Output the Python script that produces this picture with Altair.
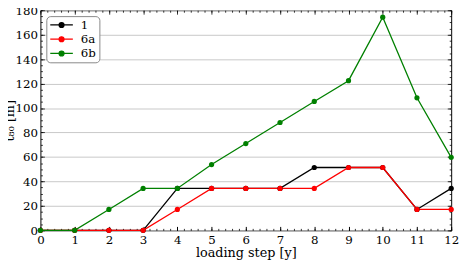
import altair as alt
import pandas as pd

steps = list(range(13))
s1 = [0, 0, 0, 0, 34.3, 34.3, 34.3, 34.3, 51.4, 51.4, 51.4, 17.1, 34.3]
s6a = [0, 0, 0, 0, 17.1, 34.3, 34.3, 34.3, 34.3, 51.4, 51.4, 17.1, 17.1]
s6b = [0, 0, 17.1, 34.3, 34.3, 53.8, 71.0, 88.2, 105.4, 122.4, 174.3, 108.4, 59.7]
series_names = ["1", "6a", "6b"]
colors = ["black", "red", "green"]
x_major = list(range(13))
x_minor = [round(i * 0.2, 1) for i in range(61)]
y_major = list(range(0, 181, 20))
y_minor = list(range(0, 181, 5))

rows = []
for name, vals in zip(series_names, [s1, s6a, s6b]):
    for s, v in zip(steps, vals):
        rows.append({"series": name, "step": s, "value": v})
df = pd.DataFrame(rows)

FONT = "DejaVu Serif"
xs = alt.Scale(domain=[0, 12], nice=False, zero=False)
ys = alt.Scale(domain=[0, 180], nice=False)

# line with a dot, scaled by r = sqrt(symbolSize)/2 = 5px
legend_path = ("M-1,0L3.6,0M1.8,0A0.5,0.5,0,1,1,0.8,0"
               "A0.5,0.5,0,1,1,1.8,0Z")

base = alt.Chart(df)

main = base.mark_line(
    strokeWidth=1.3,
    point=alt.OverlayMarkDef(filled=True, size=28, opacity=1),
).encode(
    x=alt.X("step:Q", scale=xs, axis=alt.Axis(
        orient="bottom", values=x_major, offset=-4, tickSize=4,
        labelPadding=4, domain=False, grid=False, tickColor="black",
        title="loading step [y]", labelFontSize=12, titleFontSize=13,
        titlePadding=2, labelFlush=False, labelFont=FONT, titleFont=FONT,
        labelColor="black", titleColor="black", titleFontWeight="normal")),
    y=alt.Y("value:Q", scale=ys, axis=alt.Axis(
        orient="left", values=y_major, offset=0, ticks=False,
        labelPadding=3, domain=False, grid=False,
        title="t₈₀ [m]", labelFontSize=12, titleFontSize=13,
        titleX=-31, titleY=112, titleBaseline="middle", titleAlign="center",
        titleAngle=270, labelFlush=False, labelFont=FONT, titleFont=FONT,
        labelColor="black", titleColor="black", titleFontWeight="normal")),
    color=alt.Color("series:N", scale=alt.Scale(domain=series_names, range=colors),
                    legend=alt.Legend(title=None, orient="none", legendX=6, legendY=6,
                                      symbolType=legend_path, symbolSize=100,
                                      symbolStrokeWidth=1.3,
                                      labelFont=FONT, labelFontSize=12,
                                      labelColor="black",
                                      padding=3, rowPadding=2.5, labelOffset=20,
                                      fillColor="white", strokeColor="#888",
                                      cornerRadius=4)),
)


def axis_layer(xaxis, yaxis):
    return base.mark_point(opacity=0).encode(
        x=alt.X("step:Q", scale=xs, axis=xaxis),
        y=alt.Y("value:Q", scale=ys, axis=yaxis),
    )


def tick_axis(orient, values, size):
    return alt.Axis(orient=orient, values=values, offset=-size, tickSize=size,
                    labels=False, domain=False, grid=False, title=None,
                    tickColor="black", tickWidth=0.8)


grid = axis_layer(
    tick_axis("bottom", x_minor, 2),
    alt.Axis(orient="left", values=y_major, grid=True, gridColor="#c8c8c8",
             gridWidth=1, ticks=False, labels=False, domain=False, title=None),
)
l2 = axis_layer(tick_axis("top", x_major, 4), tick_axis("left", y_minor, 2))
l3 = axis_layer(tick_axis("top", x_minor, 2), tick_axis("right", y_major, 4))
l4 = axis_layer(None, tick_axis("right", y_minor, 2))
l5 = axis_layer(None, tick_axis("left", y_major, 4))

chart = alt.layer(grid, l2, l3, l4, l5, main).resolve_axis(
    x="independent", y="independent"
).properties(
    width=418, height=224,
    autosize=alt.AutoSizeParams(type="none"),
    padding={"left": 33, "top": 0, "right": 11, "bottom": 34},
).configure_view(
    stroke="black", strokeWidth=1
)

chart.save("out.html", embed_options={"renderer": "svg", "actions": False})
